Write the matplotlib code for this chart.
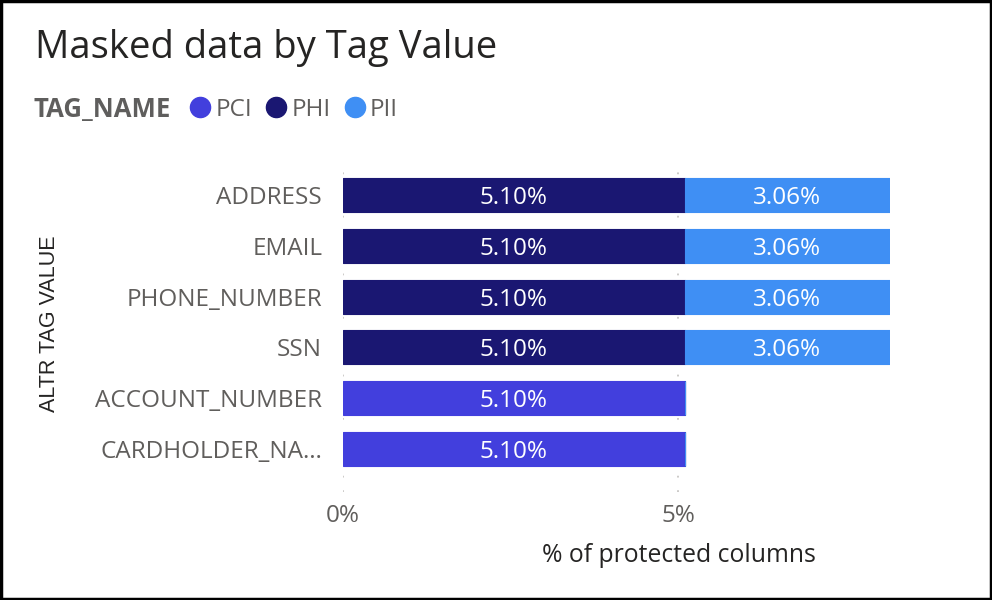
import matplotlib
matplotlib.use("Agg")
import matplotlib.pyplot as plt
from matplotlib.lines import Line2D
from matplotlib.patches import Rectangle
import numpy as np

plt.rcParams['font.family'] = ['Open Sans', 'DejaVu Sans']

categories = ["ADDRESS", "EMAIL", "PHONE_NUMBER", "SSN", "ACCOUNT_NUMBER", "CARDHOLDER_NA…"]
series_names = ["PCI", "PHI", "PII"]
pci = [0, 0, 0, 0, 5.10, 5.10]
phi = [5.10, 5.10, 5.10, 5.10, 0, 0]
pii = [3.06, 3.06, 3.06, 3.06, 0, 0]
x_ticks = [0, 5]
x_tick_labels = ["0%", "5%"]

colors = {"PCI": "#423FDD", "PHI": "#1A1772", "PII": "#3F8FF4"}

W, H = 992, 600
fig = plt.figure(figsize=(W / 100, H / 100), dpi=100)
fig.patch.set_facecolor("white")

ax = fig.add_axes([343 / W, 1 - 492 / H, 547 / W, (492 - 163) / H])
y = np.arange(len(categories))
bh = 0.67

vals = {"PCI": np.array(pci, float), "PHI": np.array(phi, float), "PII": np.array(pii, float)}
left = np.zeros(len(categories))
for name in series_names:
    v = vals[name]
    ax.barh(y, v, left=left, height=bh, color=colors[name], zorder=3,
            edgecolor=colors[name], linewidth=0.8)
    for yi, (l, w) in enumerate(zip(left, v)):
        if w > 0:
            ax.text(l + w / 2, yi, f"{w:.2f}%", ha="center", va="center_baseline",
                    color="white", fontsize=17.5, zorder=4)
    left = left + v

ax.set_xlim(0, 8.16)
ax.set_ylim(5.85, -0.63)
ax.set_yticks(y)
ax.set_yticklabels(categories, fontsize=17.5, color="#605E5C")
ax.set_xticks(x_ticks)
ax.set_xticklabels(x_tick_labels, fontsize=17.5, color="#605E5C")
ax.tick_params(axis="y", length=0, pad=15)
ax.tick_params(axis="x", length=0, pad=9)
for s in ax.spines.values():
    s.set_visible(False)
ax.grid(axis="x", color="#C8C6C4", linestyle=(0, (1, 7)), linewidth=1.3, zorder=0)
ax.grid(axis="y", visible=False)
ax.set_facecolor("white")

# Axis titles
fig.text(679 / W, 1 - 555 / H, "% of protected columns", ha="center", va="center",
         fontsize=17.8, color="#252423")
fig.text(50 / W, 1 - 324 / H, "ALTR TAG VALUE", ha="center", va="center",
         rotation=90, fontsize=15.5, color="#252423", family=["Liberation Sans", "DejaVu Sans"])

# Title
fig.text(35 / W, 1 - 58 / H, "Masked data by Tag Value", ha="left", va="baseline",
         fontsize=27.5, color="#252423")

# Legend
fig.text(33 / W, 1 - 117 / H, "TAG_NAME", ha="left", va="baseline",
         fontsize=18.5, fontweight="bold", color="#5F5E5D")
handles = [Line2D([0], [0], marker="o", linestyle="none", markersize=14.5,
                  markerfacecolor=colors[n], markeredgecolor=colors[n]) for n in series_names]
leg = fig.legend(handles, series_names, loc="center left",
                 bbox_to_anchor=(188 / W, 1 - 110 / H), ncol=3, frameon=False,
                 handletextpad=0.12, columnspacing=0.5, handlelength=1.0,
                 fontsize=17.5, borderaxespad=0, borderpad=0)
for t in leg.get_texts():
    t.set_color("#605E5C")

# Border
fig.patches.append(Rectangle((0.001, 0.0015), 0.998, 0.997, transform=fig.transFigure,
                             fill=False, edgecolor="black", linewidth=2.5))

fig.savefig("out.png", dpi=100)
